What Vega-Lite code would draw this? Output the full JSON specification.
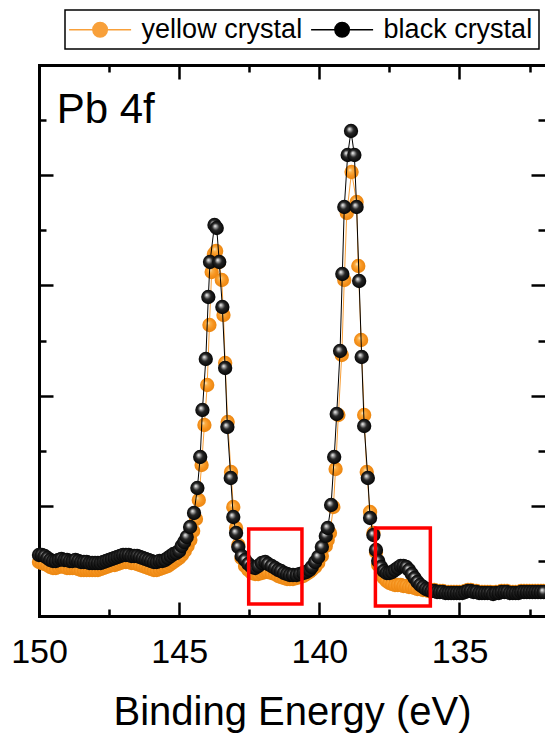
{
  "$schema": "https://vega.github.io/schema/vega-lite/v6.json",
  "width": 506,
  "height": 551,
  "autosize": {"type": "none"},
  "padding": {"left": 39, "top": 65, "right": 0, "bottom": 118},
  "background": "white",
  "config": {
    "view": {"stroke": null},
    "font": "Liberation Sans",
    "axis": {"domainColor": "black", "tickColor": "black", "labelColor": "black", "titleColor": "black", "grid": false}
  },
  "datasets": {
    "black": [
      {"e":150,"i":61},{"e":149.9,"i":61},{"e":149.8,"i":60},{"e":149.7,"i":58},{"e":149.6,"i":56},{"e":149.5,"i":55},{"e":149.4,"i":55},{"e":149.3,"i":56},{"e":149.2,"i":57},{"e":149.1,"i":56},
      {"e":149,"i":56},{"e":148.9,"i":55},{"e":148.8,"i":55},{"e":148.7,"i":56},{"e":148.6,"i":55},{"e":148.5,"i":54},{"e":148.4,"i":54},{"e":148.3,"i":54},{"e":148.2,"i":53},{"e":148.1,"i":53},
      {"e":148,"i":53},{"e":147.9,"i":53},{"e":147.8,"i":53},{"e":147.7,"i":54},{"e":147.6,"i":55},{"e":147.5,"i":56},{"e":147.4,"i":57},{"e":147.3,"i":58},{"e":147.2,"i":59},{"e":147.1,"i":60},
      {"e":147,"i":61},{"e":146.9,"i":61},{"e":146.8,"i":61},{"e":146.7,"i":60},{"e":146.6,"i":60},{"e":146.5,"i":60},{"e":146.4,"i":59},{"e":146.3,"i":58},{"e":146.2,"i":57},{"e":146.1,"i":56},
      {"e":146,"i":55},{"e":145.9,"i":54},{"e":145.8,"i":54},{"e":145.7,"i":55},{"e":145.6,"i":55},{"e":145.5,"i":56},{"e":145.4,"i":58},{"e":145.3,"i":60},{"e":145.2,"i":62},{"e":145.1,"i":63},
      {"e":145,"i":65},{"e":144.91,"i":70},{"e":144.82,"i":74},{"e":144.73,"i":79},{"e":144.61,"i":89},{"e":144.47,"i":103},{"e":144.35,"i":128},{"e":144.25,"i":159},{"e":144.17,"i":206},{"e":144.05,"i":257},
      {"e":143.96,"i":319},{"e":143.9,"i":354},{"e":143.74,"i":391},{"e":143.66,"i":388},{"e":143.57,"i":354},{"e":143.46,"i":309},{"e":143.36,"i":248},{"e":143.28,"i":189},{"e":143.16,"i":138},{"e":143.07,"i":99},
      {"e":142.97,"i":83},{"e":142.89,"i":69},{"e":142.77,"i":60},{"e":142.65,"i":56},{"e":142.53,"i":52},{"e":142.41,"i":49},{"e":142.29,"i":48},{"e":142.18,"i":50},{"e":142.05,"i":53},{"e":141.93,"i":54},
      {"e":141.83,"i":52},{"e":141.7,"i":50},{"e":141.58,"i":48},{"e":141.47,"i":46},{"e":141.37,"i":45},{"e":141.26,"i":43},{"e":141.15,"i":42},{"e":141.05,"i":41},{"e":140.94,"i":41},{"e":140.81,"i":41},
      {"e":140.69,"i":42},{"e":140.57,"i":43},{"e":140.46,"i":44},{"e":140.35,"i":46},{"e":140.27,"i":49},{"e":140.15,"i":54},{"e":140.04,"i":59},{"e":139.91,"i":69},{"e":139.77,"i":80},{"e":139.7,"i":88},
      {"e":139.58,"i":111},{"e":139.47,"i":159},{"e":139.38,"i":202},{"e":139.26,"i":265},{"e":139.18,"i":342},{"e":139.11,"i":409},{"e":138.99,"i":461},{"e":138.87,"i":485},{"e":138.75,"i":461},{"e":138.67,"i":409},
      {"e":138.58,"i":335},{"e":138.49,"i":259},{"e":138.4,"i":190},{"e":138.27,"i":138},{"e":138.19,"i":98},{"e":138.07,"i":81},{"e":137.98,"i":66},{"e":137.9,"i":55},{"e":137.8,"i":49},{"e":137.7,"i":45},
      {"e":137.6,"i":43},{"e":137.5,"i":43},{"e":137.4,"i":44},{"e":137.3,"i":46},{"e":137.2,"i":48},{"e":137.1,"i":50},{"e":137,"i":50},{"e":136.9,"i":49},{"e":136.8,"i":46},{"e":136.7,"i":42},
      {"e":136.6,"i":38},{"e":136.5,"i":34},{"e":136.4,"i":31},{"e":136.3,"i":29},{"e":136.2,"i":27},{"e":136.1,"i":26},{"e":136,"i":25},{"e":135.9,"i":25},{"e":135.8,"i":24},{"e":135.7,"i":24},
      {"e":135.6,"i":24},{"e":135.5,"i":23},{"e":135.4,"i":23},{"e":135.3,"i":23},{"e":135.2,"i":23},{"e":135.1,"i":23},{"e":135,"i":23},{"e":134.9,"i":23},{"e":134.8,"i":24},{"e":134.7,"i":25},
      {"e":134.6,"i":25},{"e":134.5,"i":24},{"e":134.4,"i":24},{"e":134.3,"i":23},{"e":134.2,"i":23},{"e":134.1,"i":23},{"e":134,"i":23},{"e":133.9,"i":23},{"e":133.8,"i":22},{"e":133.7,"i":23},
      {"e":133.6,"i":23},{"e":133.5,"i":24},{"e":133.4,"i":24},{"e":133.3,"i":24},{"e":133.2,"i":23},{"e":133.1,"i":23},{"e":133,"i":23},{"e":132.9,"i":23},{"e":132.8,"i":24},{"e":132.7,"i":24},
      {"e":132.6,"i":24},{"e":132.5,"i":24},{"e":132.4,"i":24},{"e":132.3,"i":24},{"e":132.2,"i":24},{"e":132.1,"i":24},{"e":132,"i":24}
    ],
    "yellow": [
      {"e":150,"i":54},{"e":149.9,"i":53},{"e":149.8,"i":52},{"e":149.7,"i":51},{"e":149.6,"i":49},{"e":149.5,"i":48},{"e":149.4,"i":48},{"e":149.3,"i":49},{"e":149.2,"i":50},{"e":149.1,"i":49},
      {"e":149,"i":48},{"e":148.9,"i":48},{"e":148.8,"i":48},{"e":148.7,"i":48},{"e":148.6,"i":47},{"e":148.5,"i":46},{"e":148.4,"i":46},{"e":148.3,"i":46},{"e":148.2,"i":46},{"e":148.1,"i":46},
      {"e":148,"i":46},{"e":147.9,"i":46},{"e":147.8,"i":47},{"e":147.7,"i":48},{"e":147.6,"i":49},{"e":147.5,"i":50},{"e":147.4,"i":51},{"e":147.3,"i":51},{"e":147.2,"i":52},{"e":147.1,"i":53},
      {"e":147,"i":54},{"e":146.9,"i":54},{"e":146.8,"i":54},{"e":146.7,"i":53},{"e":146.6,"i":53},{"e":146.5,"i":52},{"e":146.4,"i":51},{"e":146.3,"i":50},{"e":146.2,"i":49},{"e":146.1,"i":48},
      {"e":146,"i":47},{"e":145.9,"i":46},{"e":145.8,"i":46},{"e":145.7,"i":47},{"e":145.6,"i":48},{"e":145.5,"i":49},{"e":145.4,"i":50},{"e":145.3,"i":52},{"e":145.2,"i":54},{"e":145.1,"i":56},
      {"e":145,"i":58},{"e":144.9,"i":61},{"e":144.8,"i":65},{"e":144.7,"i":70},{"e":144.6,"i":76},{"e":144.5,"i":85},{"e":144.4,"i":97},{"e":144.3,"i":116},{"e":144.2,"i":151},{"e":144.1,"i":191},
      {"e":144,"i":231},{"e":143.92,"i":291},{"e":143.84,"i":344},{"e":143.76,"i":362},{"e":143.68,"i":365},{"e":143.58,"i":354},{"e":143.48,"i":336},{"e":143.42,"i":301},{"e":143.36,"i":253},{"e":143.27,"i":194},
      {"e":143.15,"i":144},{"e":143.07,"i":109},{"e":142.97,"i":88},{"e":142.89,"i":71},{"e":142.78,"i":58},{"e":142.65,"i":50},{"e":142.53,"i":46},{"e":142.41,"i":43},{"e":142.29,"i":42},{"e":142.18,"i":42},
      {"e":142.05,"i":43},{"e":141.93,"i":44},{"e":141.83,"i":44},{"e":141.7,"i":43},{"e":141.58,"i":42},{"e":141.47,"i":40},{"e":141.37,"i":39},{"e":141.26,"i":38},{"e":141.15,"i":37},{"e":141.05,"i":37},
      {"e":140.94,"i":37},{"e":140.81,"i":38},{"e":140.69,"i":39},{"e":140.57,"i":40},{"e":140.46,"i":42},{"e":140.35,"i":44},{"e":140.27,"i":46},{"e":140.15,"i":49},{"e":140.04,"i":53},{"e":139.91,"i":60},
      {"e":139.77,"i":70},{"e":139.7,"i":76},{"e":139.62,"i":83},{"e":139.5,"i":109},{"e":139.42,"i":147},{"e":139.32,"i":201},{"e":139.2,"i":261},{"e":139.11,"i":336},{"e":139.02,"i":403},{"e":138.85,"i":444},
      {"e":138.67,"i":414},{"e":138.61,"i":350},{"e":138.51,"i":276},{"e":138.4,"i":201},{"e":138.31,"i":144},{"e":138.19,"i":104},{"e":138.07,"i":83},{"e":137.98,"i":64},{"e":137.9,"i":51},{"e":137.8,"i":43},
      {"e":137.7,"i":38},{"e":137.6,"i":35},{"e":137.5,"i":33},{"e":137.4,"i":32},{"e":137.3,"i":31},{"e":137.2,"i":31},{"e":137.1,"i":31},{"e":137,"i":30},{"e":136.9,"i":30},{"e":136.8,"i":29},
      {"e":136.7,"i":29},{"e":136.6,"i":28},{"e":136.5,"i":27},{"e":136.4,"i":27},{"e":136.3,"i":26},{"e":136.2,"i":26},{"e":136.1,"i":25},{"e":136,"i":25},{"e":135.9,"i":26},{"e":135.8,"i":25},
      {"e":135.7,"i":25},{"e":135.6,"i":25},{"e":135.5,"i":24},{"e":135.4,"i":24},{"e":135.3,"i":24},{"e":135.2,"i":24},{"e":135.1,"i":24},{"e":135,"i":24},{"e":134.9,"i":24},{"e":134.8,"i":25},
      {"e":134.7,"i":26},{"e":134.6,"i":26},{"e":134.5,"i":25},{"e":134.4,"i":25},{"e":134.3,"i":24},{"e":134.2,"i":24},{"e":134.1,"i":24},{"e":134,"i":24},{"e":133.9,"i":24},{"e":133.8,"i":23},
      {"e":133.7,"i":24},{"e":133.6,"i":24},{"e":133.5,"i":25},{"e":133.4,"i":25},{"e":133.3,"i":25},{"e":133.2,"i":24},{"e":133.1,"i":24},{"e":133,"i":24},{"e":132.9,"i":24},{"e":132.8,"i":25},
      {"e":132.7,"i":25},{"e":132.6,"i":25},{"e":132.5,"i":25},{"e":132.4,"i":25},{"e":132.3,"i":25},{"e":132.2,"i":25},{"e":132.1,"i":25},{"e":132,"i":25}
    ]
  },
  "layer": [
    {
      "data": {"name": "yellow"},
      "mark": {"type": "line", "strokeWidth": 1},
      "encoding": {
        "x": {
          "field": "e", "type": "quantitative",
          "scale": {"domain": [150, 131.95], "nice": false, "zero": false},
          "axis": {
            "orient": "bottom",
            "values": [150, 147.5, 145, 142.5, 140, 137.5, 135, 132.5],
            "format": "d",
            "labelExpr": "datum.value % 5 === 0 ? datum.label : ''",
            "tickSize": {"condition": {"test": "datum.value % 5 === 0", "value": -14}, "value": -7},
            "tickWidth": 2.5,
            "domainWidth": 3,
            "domainCap": "square",
            "labelFont": "Liberation Sans",
            "labelFontSize": 34,
            "labelBaseline": "alphabetic",
            "labelPadding": 60,
            "labelFlush": false,
            "labelOverlap": false,
            "title": "Binding Energy (eV)",
            "titleFont": "Liberation Sans",
            "titleFontSize": 40,
            "titleFontWeight": "normal",
            "titlePadding": 16
          }
        },
        "y": {
          "field": "i", "type": "quantitative",
          "scale": {"domain": [0, 551], "nice": false, "zero": true},
          "axis": {
            "orient": "left",
            "values": [0, 55.1, 110.2, 165.3, 220.4, 275.5, 330.6, 385.7, 440.8, 495.9, 551],
            "labels": false,
            "title": null,
            "tickSize": {"condition": {"test": "round(datum.value / 55.1) % 2 === 0", "value": -14}, "value": -7},
            "tickWidth": 2.5,
            "domainWidth": 3,
            "domainCap": "square"
          }
        },
        "color": {
          "datum": "yellow crystal", "type": "nominal",
          "scale": {"domain": ["yellow crystal", "black crystal"], "range": ["#f8a03a", "#000000"]},
          "legend": {
            "title": null,
            "orient": "none",
            "legendX": 26,
            "legendY": -55,
            "direction": "horizontal",
            "strokeColor": "black",
            "fillColor": "white",
            "padding": 6,
            "labelFont": "Liberation Sans",
            "labelFontSize": 27,
            "labelColor": "black",
            "labelLimit": 400,
            "symbolType": "M-2.5,0H-0.59M0.59,0H2.5M-0.59,0A0.59,0.59,0,1,1,0.59,0A0.59,0.59,0,1,1,-0.59,0Z",
            "symbolSize": 615,
            "symbolOffset": 15.6,
            "labelOffset": 28,
            "columnPadding": 5,
            "encode": {
              "legend": {"update": {"strokeWidth": {"value": 1.5}}},
              "symbols": {
                "update": {
                  "fill": {"scale": "color", "field": "value"},
                  "stroke": {"scale": "color", "field": "value"},
                  "strokeWidth": {"value": 1.3},
                  "opacity": {"value": 1}
                }
              }
            }
          }
        }
      }
    },
    {
      "data": {"name": "yellow"},
      "mark": {
        "type": "circle", "size": 205, "opacity": 1, "strokeWidth": 0,
        "fill": {"gradient": "radial", "x1": 0.38, "y1": 0.35, "r1": 0, "x2": 0.5, "y2": 0.5, "r2": 0.55,
          "stops": [{"offset": 0, "color": "#ffeccc"}, {"offset": 0.25, "color": "#fab048"}, {"offset": 0.6, "color": "#f7931e"}, {"offset": 1, "color": "#e8840e"}]}
      },
      "encoding": {
        "x": {"field": "e", "type": "quantitative", "axis": null},
        "y": {"field": "i", "type": "quantitative", "axis": null}
      }
    },
    {
      "data": {"name": "black"},
      "mark": {"type": "line", "strokeWidth": 1},
      "encoding": {
        "x": {"field": "e", "type": "quantitative", "axis": null},
        "y": {"field": "i", "type": "quantitative", "axis": null},
        "color": {"datum": "black crystal", "type": "nominal"}
      }
    },
    {
      "data": {"name": "black"},
      "mark": {
        "type": "circle", "size": 205, "opacity": 1, "strokeWidth": 0,
        "fill": {"gradient": "radial", "x1": 0.38, "y1": 0.35, "r1": 0, "x2": 0.5, "y2": 0.5, "r2": 0.55,
          "stops": [{"offset": 0, "color": "#ffffff"}, {"offset": 0.18, "color": "#a8a8a8"}, {"offset": 0.45, "color": "#262626"}, {"offset": 1, "color": "#000000"}]}
      },
      "encoding": {
        "x": {"field": "e", "type": "quantitative", "axis": null},
        "y": {"field": "i", "type": "quantitative", "axis": null}
      }
    },
    {
      "data": {"values": [
        {"x1": 142.52, "x2": 140.62, "y1": 12, "y2": 87},
        {"x1": 138.0, "x2": 136.04, "y1": 10, "y2": 88}
      ]},
      "mark": {"type": "rect", "filled": false, "color": "#ff0000", "strokeWidth": 3.5},
      "encoding": {
        "x": {
          "field": "x1", "type": "quantitative",
          "axis": {
            "orient": "top",
            "values": [150, 147.5, 145, 142.5, 140, 137.5, 135, 132.5],
            "labels": false,
            "title": null,
            "tickSize": {"condition": {"test": "datum.value % 5 === 0", "value": -14}, "value": -7},
            "tickWidth": 2.5,
            "domainWidth": 3,
            "domainCap": "square"
          }
        },
        "x2": {"field": "x2"},
        "y": {
          "field": "y1", "type": "quantitative",
          "axis": {
            "orient": "right",
            "values": [0, 55.1, 110.2, 165.3, 220.4, 275.5, 330.6, 385.7, 440.8, 495.9, 551],
            "labels": false,
            "title": null,
            "domain": false,
            "tickSize": {"condition": {"test": "round(datum.value / 55.1) % 2 === 0", "value": -14}, "value": -7},
            "tickWidth": 2.5
          }
        },
        "y2": {"field": "y2"}
      }
    },
    {
      "data": {"values": [{"x": 149.37, "y": 493, "t": "Pb 4f"}]},
      "mark": {"type": "text", "font": "Liberation Sans", "fontSize": 42, "align": "left", "baseline": "alphabetic", "color": "black"},
      "encoding": {
        "x": {"field": "x", "type": "quantitative", "axis": null},
        "y": {"field": "y", "type": "quantitative", "axis": null},
        "text": {"field": "t"}
      }
    }
  ],
  "resolve": {"axis": {"x": "independent", "y": "independent"}}
}
